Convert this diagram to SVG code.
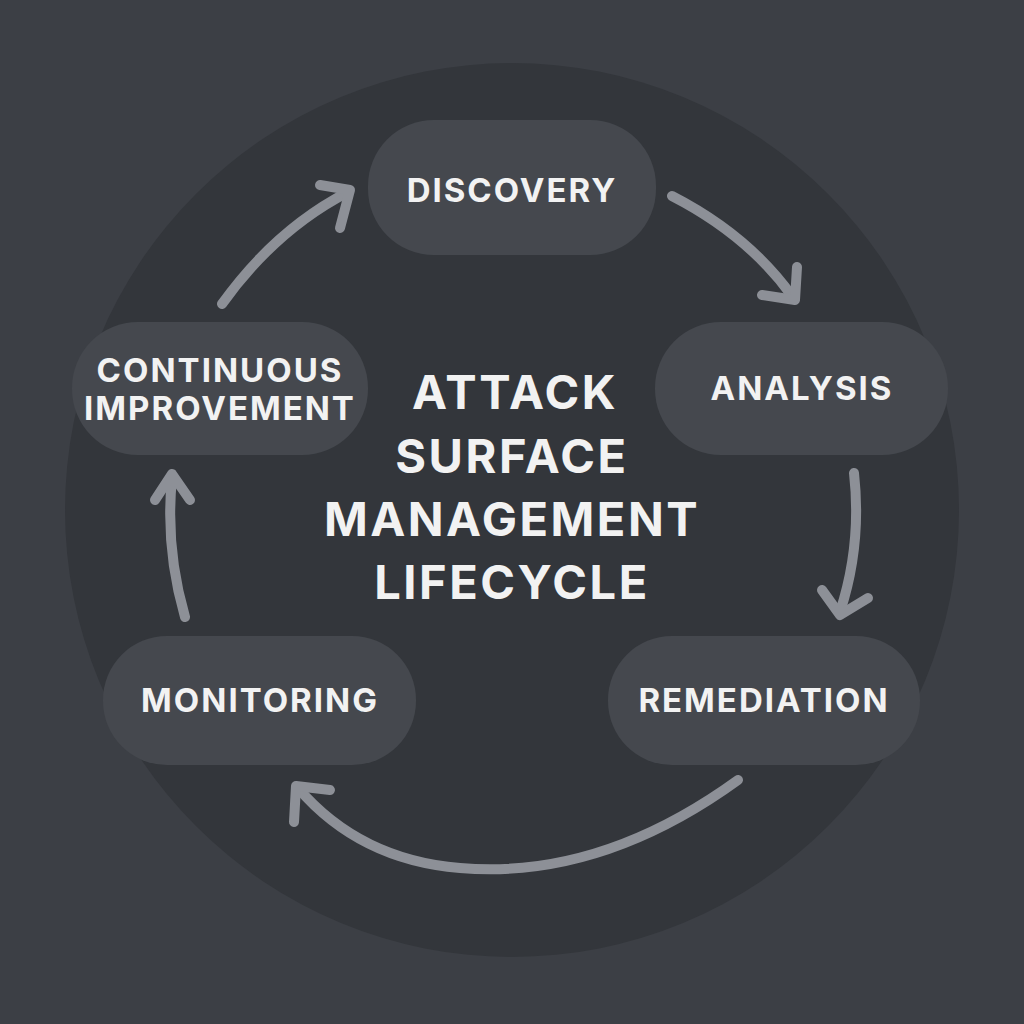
<svg xmlns="http://www.w3.org/2000/svg" width="1024" height="1024" viewBox="0 0 1024 1024">
<style>
.node{fill:#45484e}
.lbl{font-family:Inter,"Liberation Sans",sans-serif;font-weight:700;fill:#f2f2f2;text-anchor:middle;font-size:33px;letter-spacing:2px}
.ttl{font-family:Inter,"Liberation Sans",sans-serif;font-weight:700;fill:#f2f2f2;text-anchor:middle;font-size:47px;letter-spacing:2.5px}
.arr{fill:none;stroke:#8d9097;stroke-width:10;stroke-linecap:round}
.head{fill:none;stroke:#8d9097;stroke-width:10;stroke-linecap:round;stroke-linejoin:round}
</style>
<rect width="1024" height="1024" fill="#3c3f45"/>
<circle cx="512" cy="510" r="447" fill="#33363b"/>
<g id="discovery"><rect class="node" x="368" y="120" width="288" height="135" rx="66"/><text class="lbl" x="512" y="202">DISCOVERY</text></g>
<g id="analysis"><rect class="node" x="655" y="322" width="293" height="133" rx="66"/><text class="lbl" x="802" y="400">ANALYSIS</text></g>
<g id="remediation"><rect class="node" x="608" y="636" width="312" height="129" rx="64"/><text class="lbl" x="764" y="712">REMEDIATION</text></g>
<g id="monitoring"><rect class="node" x="103" y="636" width="313" height="129" rx="64"/><text class="lbl" x="260" y="712">MONITORING</text></g>
<g id="improvement"><rect class="node" x="72" y="322" width="296" height="133" rx="66"/><text class="lbl" x="220" y="382" font-size="29" letter-spacing="1.5">CONTINUOUS</text><text class="lbl" x="220" y="420" font-size="29" letter-spacing="1.5">IMPROVEMENT</text></g>
<g id="title"><text class="ttl" x="515" y="409">ATTACK</text><text class="ttl" x="512" y="473">SURFACE</text><text class="ttl" x="512" y="536">MANAGEMENT</text><text class="ttl" x="512" y="599">LIFECYCLE</text></g>
<g id="connectors">
<path class="arr" d="M672 196 Q748 235 792 296"/><path class="head" d="M762 295 L795 300 L797 267"/>
<path class="arr" d="M854 473 Q862 545 840 612"/><path class="head" d="M822 590 L840 615 L868 598"/>
<path class="arr" d="M738 780 Q600 880 460 868 Q360 860 298 788"/><path class="head" d="M294 822 L296 786 L330 790"/>
<path class="arr" d="M185 617 Q165 548 172 478"/><path class="head" d="M155 500 L172 474 L190 500"/>
<path class="arr" d="M222 304 Q275 230 348 192"/><path class="head" d="M320 185 L350 190 L340 228"/>
</g>
</svg>
